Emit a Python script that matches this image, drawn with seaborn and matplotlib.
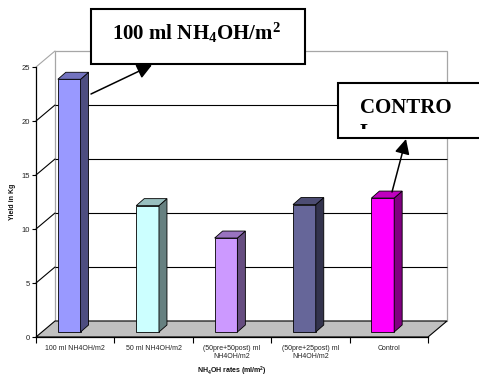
import numpy as np
import pandas as pd
import matplotlib
matplotlib.use("Agg")
import matplotlib.pyplot as plt
from matplotlib.patches import Polygon, Rectangle
from matplotlib.transforms import ScaledTranslation, IdentityTransform, Bbox
import seaborn as sns

# ---- data -------------------------------------------------------------
treatments = [
    "100 ml NH4OH/m2",
    "50 ml NH4OH/m2",
    "(50pre+50post) ml\nNH4OH/m2",
    "(50pre+25post) ml\nNH4OH/m2",
    "Control",
]
yield_kg = [23.4, 11.7, 8.7, 11.8, 12.4]
y_ticks = [0, 5, 10, 15, 20, 25]

front_colors = ["#9999FF", "#CCFFFF", "#CC99FF", "#666699", "#FF00FF"]
side_colors = ["#4D4D80", "#668080", "#664D80", "#33334D", "#800080"]
top_colors = ["#7373BF", "#99BFBF", "#9973BF", "#4D4D73", "#BF00BF"]

# ---- figure -----------------------------------------------------------
W, H = 479, 378
sns.set_theme(style="white")
plt.rcParams["font.family"] = ["Liberation Sans", "DejaVu Sans"]

fig = plt.figure(figsize=(W / 100, H / 100), dpi=100)
fig.patch.set_facecolor("white")


def pixel_axes(z):
    a = fig.add_axes([0, 0, 1, 1], zorder=z)
    a.set_xlim(0, W)
    a.set_ylim(H, 0)
    a.axis("off")
    a.patch.set_alpha(0)
    return a


bg = pixel_axes(0)

# front plane of the 3-D box (pixel coordinates, origin top-left)
x_left, x_right, y_base, y_top = 36, 428, 337, 67
ax = fig.add_axes([x_left / W, (H - y_base) / H,
                   (x_right - x_left) / W, (y_base - y_top) / H], zorder=1)
ax.patch.set_visible(False)

df = pd.DataFrame({"treatment": treatments, "yield": yield_kg})
sns.barplot(data=df, x="treatment", y="yield", hue="treatment",
            palette=front_colors, width=0.29, saturation=1, legend=False,
            edgecolor="black", linewidth=0.6, ax=ax)
ax.set_xlim(-0.5, 4.5)
ax.set_ylim(0, 25)

T = ax.transData
ident = IdentityTransform()


def D(x, y):
    return np.asarray(T.transform((x, y)))


depth = np.array([19.0, 16.0])      # back wall offset (display px)
bar_shift = np.array([-6.0, 5.0])   # bars stand inside the box
bar_depth = np.array([8.0, 7.0])    # thickness of each column
wall_grey = "#A6A6A6"

# back wall
wall = [D(-0.5, 0) + depth, D(4.5, 0) + depth, D(4.5, 25) + depth, D(-0.5, 25) + depth]
bg.add_patch(Polygon(wall, closed=True, fc="white", ec=wall_grey, lw=0.9,
                     transform=ident))
# gridlines on the back wall and left wall
for v in y_ticks[1:]:
    if v < 25:
        p0, p1 = D(-0.5, v) + depth, D(4.5, v) + depth
        bg.plot([p0[0], p1[0]], [p0[1], p1[1]], color="black", lw=0.8,
                transform=ident, solid_capstyle="butt")
    f0 = D(-0.5, v)
    bg.plot([f0[0], f0[0] + depth[0]], [f0[1], f0[1] + depth[1]],
            color="black" if v < 25 else wall_grey, lw=0.8, transform=ident)
# floor
floor = [D(-0.5, 0), D(4.5, 0), D(4.5, 0) + depth, D(-0.5, 0) + depth]
bg.add_patch(Polygon(floor, closed=True, fc="#C0C0C0", ec="black", lw=0.8,
                     transform=ident))

# columns: shift the front faces, add side and top faces
off = ScaledTranslation(bar_shift[0] / 100, bar_shift[1] / 100, fig.dpi_scale_trans)
bars = sorted(ax.patches, key=lambda p: p.get_x())
for i, p in enumerate(bars):
    p.set_transform(T + off)
    p.set_clip_on(False)
    xl, w, v = p.get_x(), p.get_width(), p.get_height()
    xr = xl + w
    fl_t, fr_t, fr_b = D(xl, v) + bar_shift, D(xr, v) + bar_shift, D(xr, 0) + bar_shift
    side = [fr_b, fr_t, fr_t + bar_depth, fr_b + bar_depth]
    top = [fl_t, fr_t, fr_t + bar_depth, fl_t + bar_depth]
    ax.add_patch(Polygon(side, closed=True, fc=side_colors[i], ec="black",
                         lw=0.6, transform=ident, clip_on=False, zorder=3))
    ax.add_patch(Polygon(top, closed=True, fc=top_colors[i], ec="black",
                         lw=0.6, transform=ident, clip_on=False, zorder=3))

# axes, ticks and labels
for s in ["top", "right"]:
    ax.spines[s].set_visible(False)
for s in ["left", "bottom"]:
    ax.spines[s].set_color("black")
    ax.spines[s].set_linewidth(0.9)
ax.set_yticks(y_ticks)
ax.set_xticks(range(len(treatments)))
ax.set_xticklabels(treatments)
ax.set_xticks(np.arange(-0.5, len(treatments), 1), minor=True)
ax.tick_params(axis="x", which="major", bottom=True, length=0, pad=6,
               labelsize=5, labelcolor="#222222")
ax.tick_params(axis="x", which="minor", bottom=True, length=4, width=0.8,
               direction="out", color="black")
ax.tick_params(axis="y", left=True, length=3, width=0.8, direction="out",
               pad=1.5, labelsize=5.5, color="black", labelcolor="#222222")
ax.set_ylabel("Yield in Kg", fontsize=5, fontweight="bold", labelpad=4,
              color="#111111")
ax.set_xlabel(r"NH$\mathregular{_4}$OH rates (ml/m$\mathregular{^2}$)",
              fontsize=5, fontweight="bold", labelpad=3, color="#111111")

# ---- callouts ---------------------------------------------------------
ov = pixel_axes(3)
arrow = dict(arrowstyle="-|>,head_length=0.9,head_width=0.45", color="black",
             lw=1.1, shrinkA=0, shrinkB=0, mutation_scale=10)
serif = ["Liberation Serif", "DejaVu Serif"]

ov.annotate("", xy=(152, 65), xytext=(91, 94), arrowprops=arrow, zorder=1)
ov.add_patch(Rectangle((91, 9), 214, 55, fc="white", ec="black", lw=1.5, zorder=2))
ov.text(112, 40, r"100 ml NH$\mathregular{_4}$OH/m$\mathregular{^2}$",
        fontsize=15, fontweight="bold", family=serif, color="black",
        ha="left", va="baseline", zorder=3)

ov.annotate("", xy=(406, 139), xytext=(392, 192), arrowprops=arrow, zorder=1)
ov.add_patch(Rectangle((338, 83), 150, 55, fc="white", ec="black", lw=1.5, zorder=2))
ov.text(360, 113, "CONTRO", fontsize=15, fontweight="bold", family=serif,
        color="black", ha="left", va="baseline", zorder=3)
last = ov.text(360, 138, "L", fontsize=15, fontweight="bold", family=serif,
               color="black", ha="left", va="baseline", zorder=3)
# the text frame only shows the top of the wrapped second line
last.set_clip_box(Bbox.from_extents(338, H - 129, 479, H - 84))
last.set_clip_on(True)

fig.savefig("out.png", dpi=100)
